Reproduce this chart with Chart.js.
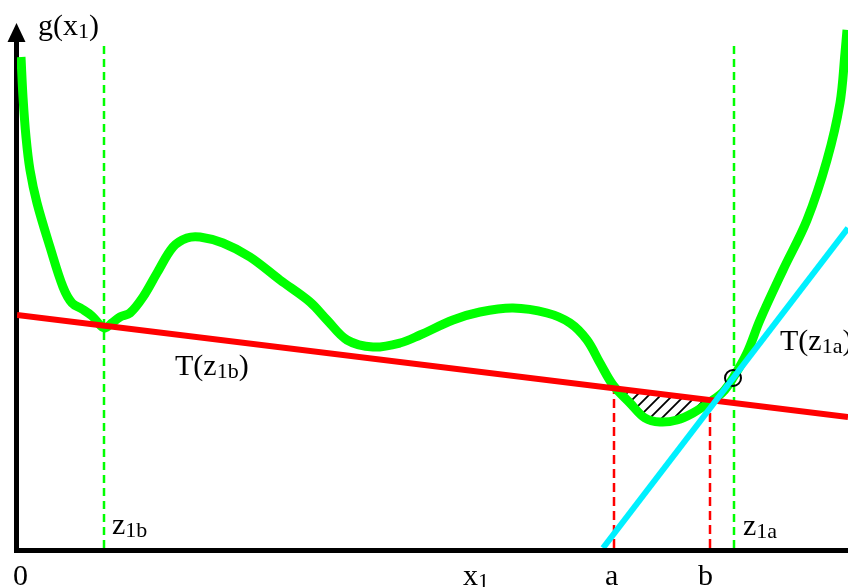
<!DOCTYPE html>
<html>
<head>
<meta charset="utf-8">
<script src="https://cdn.jsdelivr.net/npm/chart.js@4.4.1/dist/chart.umd.min.js"></script>
<style>
    body { margin: 0; background: #fff; overflow: hidden; }
    #wrap { width: 848px; height: 587px; position: relative; }
    canvas { display: block; }
</style>
</head>
<body>
<div id="wrap"><canvas id="curveCanvas"></canvas></div>
<script>
// g(x1) curve (x along x1, y = g)
const curveX = [4, 6, 9, 13, 20, 33, 46, 55, 65, 75, 83, 88, 95, 103, 113, 126, 140, 156, 170, 183,
    206, 233, 263, 293, 310, 330, 356, 383, 403, 436, 463, 496, 530, 553, 570, 583, 596, 613, 628,
    643, 660, 676, 693, 706, 716, 730, 743, 766, 790, 810, 823, 828, 830];
const curveY = [491, 451, 411, 378, 345, 301, 261, 245, 239, 232, 223, 220, 225, 231, 235, 251, 275, 301, 310, 311,
    305, 291, 268, 246, 228, 208, 201, 205, 213, 228, 236, 240, 235, 225, 208, 185, 163, 145, 130,
    126, 128, 135, 146, 156, 170, 195, 228, 278, 328, 388, 445, 495, 518];

// tangent T(z1b) (red) and T(z1a) (cyan)
const tangentBX = [0, 831];
const tangentBY = [233, 131];
const tangentAX = [586, 831];
const tangentAY = [0, 320];

// marked points on the x1 axis
const zNames = ["1b", "1a"];
const zValues = [87, 717];
const zTop = 503;
const abNames = ["a", "b"];
const abValues = [597, 693];
const abTop = [160, 148];

// touching point of T(z1a)
const touchX = 716;
const touchY = 170;

const xMax = 831;
const yMax = 534;

const toPoints = (xs, ys) => xs.map((x, i) => ({ x: x, y: ys[i] }));

function hatchPattern() {
    const tile = document.createElement("canvas");
    tile.width = 12;
    tile.height = 12;
    const t = tile.getContext("2d");
    t.strokeStyle = "#000";
    t.lineWidth = 1.8;
    t.beginPath();
    t.moveTo(-2, 14);
    t.lineTo(14, -2);
    t.moveTo(-8, 8);
    t.lineTo(8, -8);
    t.moveTo(4, 20);
    t.lineTo(20, 4);
    t.stroke();
    return t.createPattern(tile, "repeat");
}

const green = "#00ff00";
const red = "#ff0000";
const cyan = "#00f0ff";

const datasets = [];

// drawn top first (dataset 0 ends up on top)
datasets.push({
    label: "T(z1a)",
    data: toPoints(tangentAX, tangentAY),
    showLine: true,
    borderColor: cyan,
    borderWidth: 6,
    pointRadius: 0
});

datasets.push({
    label: "T(z1b)",
    data: toPoints(tangentBX, tangentBY),
    showLine: true,
    borderColor: red,
    borderWidth: 6,
    pointRadius: 0
});

datasets.push({
    label: "touch",
    data: [{ x: touchX, y: touchY }],
    pointRadius: 8,
    pointBorderWidth: 2,
    pointBorderColor: "#000",
    pointBackgroundColor: "rgba(0,0,0,0)"
});

datasets.push({
    label: "g(x1)",
    data: toPoints(curveX, curveY),
    showLine: true,
    borderColor: green,
    borderWidth: 9,
    pointRadius: 0,
    tension: 0.35,
    fill: { target: 1, above: "rgba(0,0,0,0)", below: hatchPattern() }
});

zValues.forEach((v, i) => {
    datasets.push({
        label: "z" + zNames[i],
        data: [{ x: v, y: 0 }, { x: v, y: zTop }],
        showLine: true,
        borderColor: green,
        borderWidth: 2.5,
        borderDash: [8, 5],
        pointRadius: 0
    });
});

abValues.forEach((v, i) => {
    datasets.push({
        label: abNames[i],
        data: [{ x: v, y: 0 }, { x: v, y: abTop[i] }],
        showLine: true,
        borderColor: red,
        borderWidth: 2.5,
        borderDash: [9, 5],
        pointRadius: 0
    });
});

function subText(c, x, y, main, sub, tail) {
    c.font = "30px 'Liberation Serif', 'Times New Roman', serif";
    c.fillText(main, x, y);
    x += c.measureText(main).width;
    c.font = "22px 'Liberation Serif', 'Times New Roman', serif";
    c.fillText(sub, x, y + 3);
    x += c.measureText(sub).width;
    if (tail) {
        c.font = "30px 'Liberation Serif', 'Times New Roman', serif";
        c.fillText(tail, x, y);
    }
}

const axesPlugin = {
    id: "axesPlugin",
    beforeDatasetsDraw(chart) {
        const c = chart.ctx;
        const left = chart.scales.x.getPixelForValue(0);
        const bottom = chart.scales.y.getPixelForValue(0);
        c.save();
        c.strokeStyle = "#000";
        c.fillStyle = "#000";
        c.lineWidth = 5;
        c.beginPath();
        c.moveTo(left - 0.5, bottom + 5);
        c.lineTo(left - 0.5, 40);
        c.moveTo(left - 3, bottom + 2.5);
        c.lineTo(chart.width, bottom + 2.5);
        c.stroke();
        c.beginPath();
        c.moveTo(left - 0.5, 23);
        c.lineTo(left - 9.5, 42);
        c.lineTo(left + 8.5, 42);
        c.closePath();
        c.fill();
        c.restore();
    },
    afterDraw(chart) {
        const c = chart.ctx;
        const xs = chart.scales.x;
        c.save();
        c.fillStyle = "#000";
        c.textBaseline = "alphabetic";
        subText(c, 38, 35, "g(x", "1", ")");
        c.font = "30px 'Liberation Serif', 'Times New Roman', serif";
        c.fillText("0", 13, 585);
        subText(c, 463, 585, "x", "1");
        c.font = "30px 'Liberation Serif', 'Times New Roman', serif";
        c.fillText(abNames[0], xs.getPixelForValue(abValues[0]) - 9, 585);
        c.fillText(abNames[1], xs.getPixelForValue(abValues[1]) - 12, 585);
        subText(c, xs.getPixelForValue(zValues[0]) + 8, 534, "z", zNames[0]);
        subText(c, xs.getPixelForValue(zValues[1]) + 9, 535, "z", zNames[1]);
        subText(c, 175, 375, "T(z", zNames[0], ")");
        subText(c, 780, 350, "T(z", zNames[1], ")");
        c.restore();
    }
};

new Chart(document.getElementById("curveCanvas"), {
    type: "scatter",
    data: { datasets: datasets },
    options: {
        responsive: true,
        maintainAspectRatio: false,
        animation: false,
        layout: { autoPadding: false, padding: { left: 17, top: 14, right: 0, bottom: 39 } },
        plugins: {
            legend: { display: false },
            tooltip: { enabled: false }
        },
        scales: {
            x: { type: "linear", min: 0, max: xMax, display: false },
            y: { type: "linear", min: 0, max: yMax, display: false }
        }
    },
    plugins: [axesPlugin]
});
</script>
</body>
</html>
